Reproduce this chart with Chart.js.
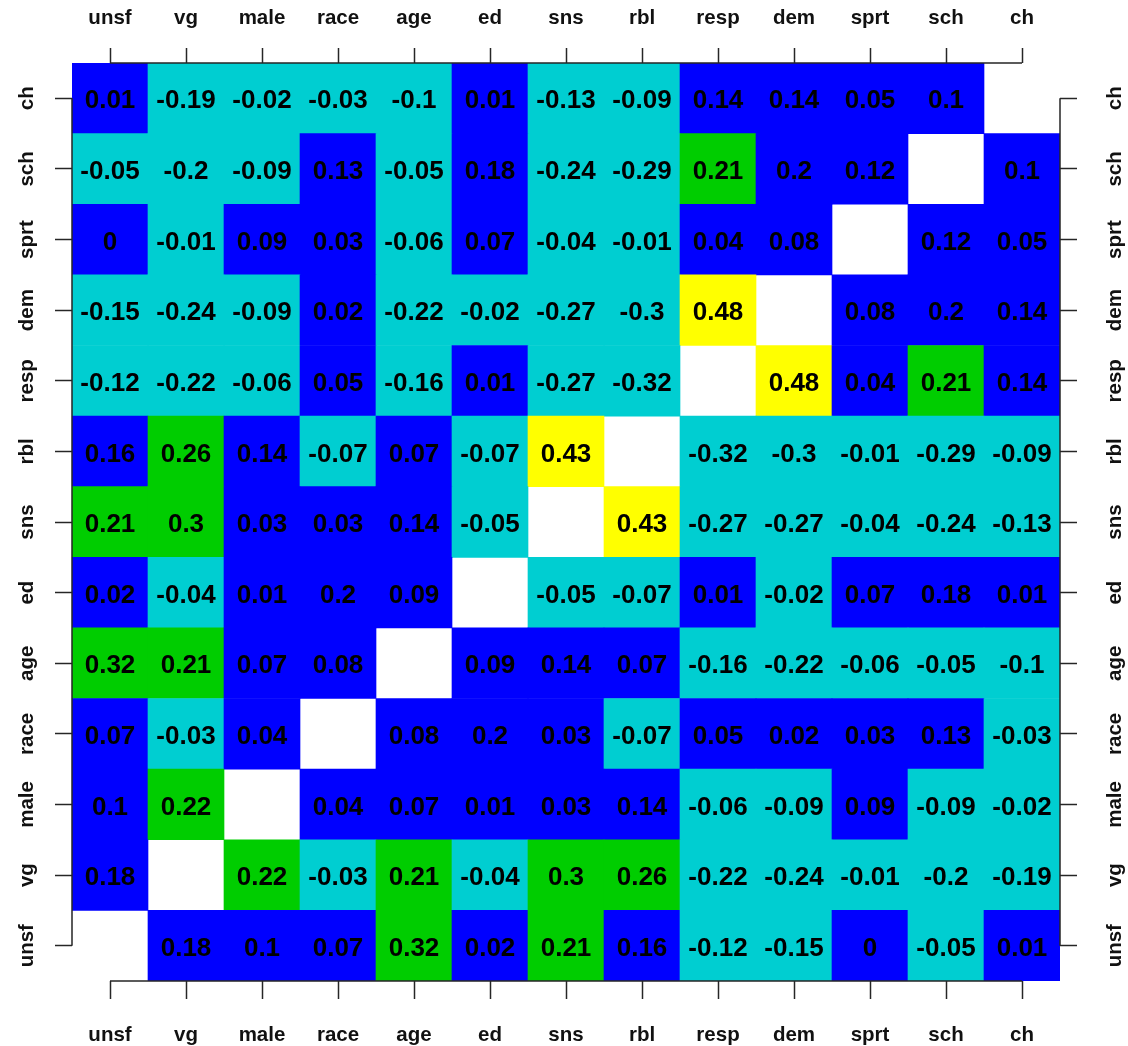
<!DOCTYPE html>
<html>
<head>
<meta charset="utf-8">
<title>Correlation matrix</title>
<script src="https://cdn.jsdelivr.net/npm/chart.js@4.4.1/dist/chart.umd.min.js"></script>
<style>
  html, body { margin: 0; padding: 0; background: #ffffff; }
  #wrap { position: relative; width: 1128px; height: 1046px; }
</style>
</head>
<body>
<div id="wrap"><canvas id="corrChart"></canvas></div>
<script>
// Variable names, left to right on x and bottom to top on y
const vars = ['unsf', 'vg', 'male', 'race', 'age', 'ed', 'sns', 'rbl', 'resp', 'dem', 'sprt', 'sch', 'ch'];

// Pairwise correlations for each variable (null on the diagonal)
const unsf = [null, 0.18, 0.1, 0.07, 0.32, 0.02, 0.21, 0.16, -0.12, -0.15, 0, -0.05, 0.01];
const vg   = [0.18, null, 0.22, -0.03, 0.21, -0.04, 0.3, 0.26, -0.22, -0.24, -0.01, -0.2, -0.19];
const male = [0.1, 0.22, null, 0.04, 0.07, 0.01, 0.03, 0.14, -0.06, -0.09, 0.09, -0.09, -0.02];
const race = [0.07, -0.03, 0.04, null, 0.08, 0.2, 0.03, -0.07, 0.05, 0.02, 0.03, 0.13, -0.03];
const age  = [0.32, 0.21, 0.07, 0.08, null, 0.09, 0.14, 0.07, -0.16, -0.22, -0.06, -0.05, -0.1];
const ed   = [0.02, -0.04, 0.01, 0.2, 0.09, null, -0.05, -0.07, 0.01, -0.02, 0.07, 0.18, 0.01];
const sns  = [0.21, 0.3, 0.03, 0.03, 0.14, -0.05, null, 0.43, -0.27, -0.27, -0.04, -0.24, -0.13];
const rbl  = [0.16, 0.26, 0.14, -0.07, 0.07, -0.07, 0.43, null, -0.32, -0.3, -0.01, -0.29, -0.09];
const resp = [-0.12, -0.22, -0.06, 0.05, -0.16, 0.01, -0.27, -0.32, null, 0.48, 0.04, 0.21, 0.14];
const dem  = [-0.15, -0.24, -0.09, 0.02, -0.22, -0.02, -0.27, -0.3, 0.48, null, 0.08, 0.2, 0.14];
const sprt = [0, -0.01, 0.09, 0.03, -0.06, 0.07, -0.04, -0.01, 0.04, 0.08, null, 0.12, 0.05];
const sch  = [-0.05, -0.2, -0.09, 0.13, -0.05, 0.18, -0.24, -0.29, 0.21, 0.2, 0.12, null, 0.1];
const ch   = [0.01, -0.19, -0.02, -0.03, -0.1, 0.01, -0.13, -0.09, 0.14, 0.14, 0.05, 0.1, null];

const rows = [unsf, vg, male, race, age, ed, sns, rbl, resp, dem, sprt, sch, ch];

const FONT = '"Liberation Sans", Arial, sans-serif';
const AXIS_COLOR = '#262626';

// colour bands: negative, 0..0.2, 0.2..0.4, above 0.4
function cellColor(v) {
    if (v < 0) return '#00CED1';
    if (v <= 0.2) return '#0000FF';
    if (v <= 0.4) return '#00CD00';
    return '#FFFF00';
}

// one floating-bar dataset per row, each bar spans its row band
const datasets = rows.map((row, i) => ({
    label: vars[i],
    values: row,
    data: row.map(v => v === null ? null : [i - 0.5, i + 0.5]),
    backgroundColor: row.map(v => v === null ? 'rgba(0,0,0,0)' : cellColor(v)),
    borderWidth: 0,
    grouped: false,
    barPercentage: 1,
    categoryPercentage: 1
}));

// numbers printed in the middle of each cell
const cellLabels = {
    id: 'cellLabels',
    afterDatasetsDraw(chart) {
        const ctx = chart.ctx;
        ctx.save();
        ctx.font = 'bold 26px ' + FONT;
        ctx.fillStyle = '#000000';
        ctx.textAlign = 'center';
        ctx.textBaseline = 'middle';
        chart.data.datasets.forEach((ds, i) => {
            chart.getDatasetMeta(i).data.forEach((bar, j) => {
                const v = ds.values[j];
                if (v === null) return;
                ctx.fillText(String(v), bar.x, (bar.y + bar.base) / 2 + 3);
            });
        });
        ctx.restore();
    }
};

// base-graphics style axes: line only between first and last tick, rotated y labels
const frameAxes = {
    id: 'frameAxes',
    afterDatasetsDraw(chart) {
        const ctx = chart.ctx;
        const area = chart.chartArea;
        const xs = chart.scales.x;
        const ys = chart.scales.y;
        const x0 = xs.getPixelForTick(0);
        const x1 = xs.getPixelForTick(vars.length - 1);
        const y0 = ys.getPixelForValue(0);
        const y1 = ys.getPixelForValue(vars.length - 1);

        ctx.save();
        ctx.strokeStyle = AXIS_COLOR;
        ctx.lineWidth = 1.5;
        ctx.beginPath();
        ctx.moveTo(x0, area.bottom); ctx.lineTo(x1, area.bottom);
        ctx.moveTo(x0, area.top); ctx.lineTo(x1, area.top);
        ctx.moveTo(area.left, y0); ctx.lineTo(area.left, y1);
        ctx.moveTo(area.right, y0); ctx.lineTo(area.right, y1);
        ctx.stroke();

        ctx.font = 'bold 20.5px ' + FONT;
        ctx.fillStyle = '#111111';
        ctx.textAlign = 'center';
        ctx.textBaseline = 'alphabetic';
        vars.forEach((name, i) => {
            const py = ys.getPixelForValue(i);
            [33, 1121].forEach(bx => {
                ctx.save();
                ctx.translate(bx, py);
                ctx.rotate(-Math.PI / 2);
                ctx.fillText(name, 0, 0);
                ctx.restore();
            });
        });
        ctx.restore();
    }
};

function xAxis(position, tickLength, padding, height) {
    return {
        type: 'category',
        position: position,
        labels: vars,
        offset: true,
        grid: {
            drawOnChartArea: false,
            offset: false,
            tickLength: tickLength,
            tickColor: AXIS_COLOR,
            tickWidth: 1.5
        },
        border: { display: false },
        ticks: {
            autoSkip: false,
            maxRotation: 0,
            padding: padding,
            color: '#111111',
            font: { family: FONT, size: 20.5, weight: 'bold', lineHeight: 1.1 }
        },
        afterFit(scale) { scale.height = height; }
    };
}

function yAxis(position, width) {
    return {
        type: 'linear',
        position: position,
        min: -0.5,
        max: vars.length - 0.5,
        afterBuildTicks(scale) {
            scale.ticks = vars.map((_, i) => ({ value: i }));
        },
        grid: {
            drawOnChartArea: false,
            tickLength: 17,
            tickColor: AXIS_COLOR,
            tickWidth: 1.5
        },
        border: { display: false },
        ticks: { display: false },
        afterFit(scale) { scale.width = width; }
    };
}

new Chart(document.getElementById('corrChart'), {
    type: 'bar',
    data: {
        labels: vars,
        datasets: datasets
    },
    options: {
        responsive: true,
        maintainAspectRatio: false,
        animation: false,
        layout: { padding: 0 },
        plugins: {
            legend: { display: false },
            tooltip: { enabled: false },
            title: { display: false }
        },
        scales: {
            x: xAxis('bottom', 18, 25, 65),
            x2: xAxis('top', 15, 18, 63),
            y: yAxis('left', 72),
            y2: yAxis('right', 68)
        }
    },
    plugins: [cellLabels, frameAxes]
});
</script>
</body>
</html>
